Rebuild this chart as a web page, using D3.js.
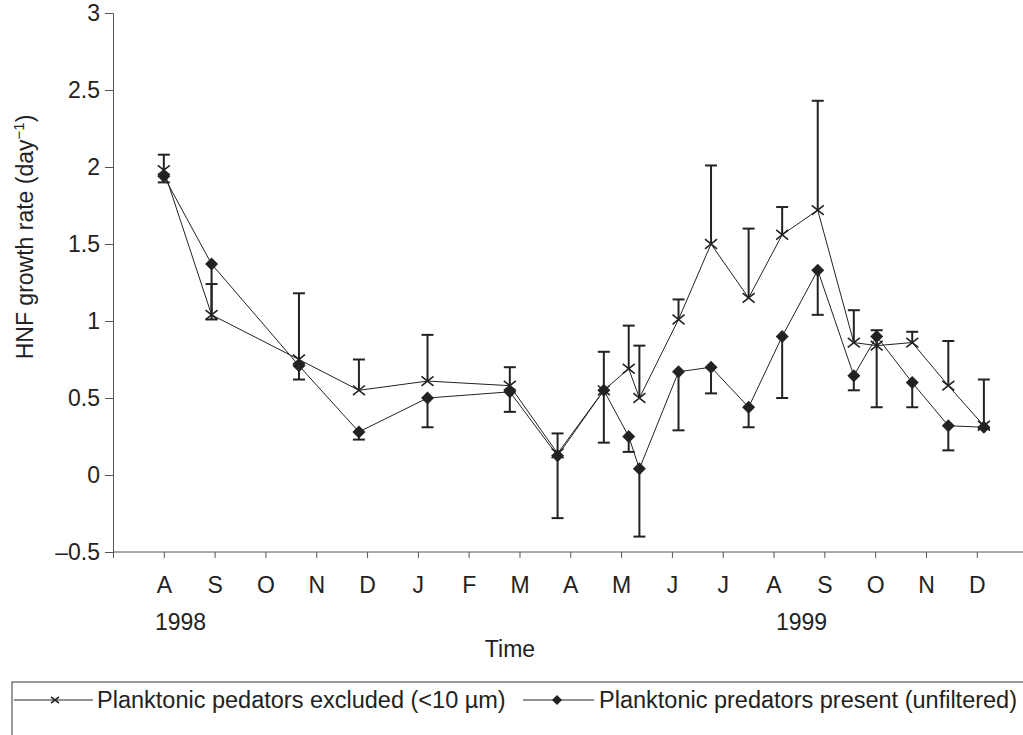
<!DOCTYPE html>
<html>
<head>
<meta charset="utf-8">
<script src="https://cdn.jsdelivr.net/npm/d3@7"></script>
<style>
  body { margin: 0; background: #fff; }
  svg { display: block; font-family: "Liberation Sans", Arial, sans-serif; }
</style>
</head>
<body>
<svg id="chart" width="1023" height="735"></svg>
<script>
// Taux de croissance HNF, deux traitements, août 1998 - décembre 1999

// Étiquettes des mois (axe x) et années
var months = ["A", "S", "O", "N", "D", "J", "F", "M", "A", "M", "J", "J", "A", "S", "O", "N", "D"];
var years = ["1998", "1999"];
var yTicks = [-0.5, 0, 0.5, 1, 1.5, 2, 2.5, 3];

// Date d'échantillonnage, en mois depuis août 1998
var sampleTime = [0, 0.94, 2.66, 3.84, 5.19, 6.81, 7.75, 8.66, 9.15, 9.36,
                  10.13, 10.77, 11.51, 12.17, 12.87, 13.58, 14.03, 14.73, 15.44, 16.14];

// Prédateurs exclus (<10 µm) - erreur vers le haut
var excluded    = [1.98, 1.04, 0.75, 0.55, 0.61, 0.58, 0.14, 0.55, 0.69, 0.50,
                   1.01, 1.50, 1.15, 1.56, 1.72, 0.86, 0.84, 0.86, 0.58, 0.32];
var excludedErr = [0.10, 0.20, 0.43, 0.20, 0.30, 0.12, 0.13, 0.25, 0.28, 0.34,
                   0.13, 0.51, 0.45, 0.18, 0.71, 0.21, 0.10, 0.07, 0.29, 0.30];

// Prédateurs présents (non filtré) - erreur vers le bas
var present    = [1.94, 1.37, 0.71, 0.28, 0.50, 0.54, 0.125, 0.55, 0.25, 0.04,
                  0.67, 0.70, 0.44, 0.90, 1.33, 0.645, 0.90, 0.60, 0.32, 0.31];
var presentErr = [0.04, 0.36, 0.09, 0.05, 0.19, 0.13, 0.405, 0.34, 0.10, 0.44,
                  0.38, 0.17, 0.13, 0.40, 0.29, 0.095, 0.46, 0.16, 0.16, 0.01];

var svg = d3.select("#chart");
var ink = "#222";
var fs = 23;

// Échelles
var x = d3.scaleLinear().domain([-1, 17]).range([113, 113 + 18 * 50.81]);
var y = d3.scaleLinear().domain([-0.5, 3]).range([552, 13]);

// Axe y
var yAxis = svg.append("g")
    .attr("transform", "translate(113,0)")
    .call(d3.axisLeft(y).tickValues(yTicks).tickSize(8).tickPadding(5)
        .tickFormat(d => d < 0 ? "\u2013" + Math.abs(d) : String(d)));
yAxis.select(".domain").attr("stroke", "#555");
yAxis.selectAll(".tick line").attr("stroke", "#555");
yAxis.selectAll("text").attr("font-size", fs).attr("fill", ink).attr("font-family", null);

// Axe x
var xAxis = svg.append("g")
    .attr("transform", "translate(0,552)")
    .call(d3.axisBottom(x).tickValues(d3.range(-1, 18)).tickSize(6).tickPadding(19)
        .tickFormat(d => months[d] || ""));
xAxis.select(".domain").attr("stroke", "#555").attr("d", "M113,0H1023");
xAxis.selectAll(".tick line").attr("stroke", "#555");
xAxis.selectAll("text").attr("font-size", fs).attr("fill", ink).attr("font-family", null);

// Années sous les mois
years.forEach((yr, i) => {
    svg.append("text")
        .attr("x", x(i === 0 ? 0.33 : 12.55))
        .attr("y", 630)
        .attr("text-anchor", "middle")
        .attr("font-size", fs)
        .attr("fill", ink)
        .text(yr);
});

// Titres des axes
svg.append("text")
    .attr("x", 510).attr("y", 657)
    .attr("text-anchor", "middle")
    .attr("font-size", fs).attr("fill", ink)
    .text("Time");

var yTitle = svg.append("text")
    .attr("transform", "translate(33,237) rotate(-90)")
    .attr("text-anchor", "middle")
    .attr("font-size", fs).attr("fill", ink);
yTitle.append("tspan").text("HNF growth rate (day");
yTitle.append("tspan").attr("font-size", 15).attr("dy", -9).text("\u22121");
yTitle.append("tspan").attr("dy", 9).text(")");

var line = d3.line().x(d => x(d.t)).y(d => y(d.v));

var exData = sampleTime.map((t, i) => ({t: t, v: excluded[i], e: excludedErr[i]}));
var prData = sampleTime.map((t, i) => ({t: t, v: present[i], e: presentErr[i]}));

// Barres d'erreur
function errorBars(data, dir) {
    var g = svg.append("g").attr("stroke", ink).attr("stroke-width", 2);
    data.forEach(d => {
        var y0 = y(d.v), y1 = y(d.v + dir * d.e), cx = x(d.t);
        g.append("line").attr("x1", cx).attr("x2", cx).attr("y1", y0).attr("y2", y1);
        g.append("line").attr("x1", cx - 6).attr("x2", cx + 6).attr("y1", y1).attr("y2", y1);
    });
}
errorBars(exData, 1);
errorBars(prData, -1);

// Lignes
svg.append("path").datum(exData).attr("d", line)
    .attr("fill", "none").attr("stroke", ink).attr("stroke-width", 1);
svg.append("path").datum(prData).attr("d", line)
    .attr("fill", "none").attr("stroke", ink).attr("stroke-width", 1);

// Marqueurs
function cross(g, cx, cy, r) {
    g.append("path")
        .attr("d", `M${cx - r},${cy - r * 0.8}L${cx + r},${cy + r * 0.8}M${cx - r},${cy + r * 0.8}L${cx + r},${cy - r * 0.8}`)
        .attr("stroke", ink).attr("stroke-width", 1.6).attr("fill", "none");
}
function diamond(g, cx, cy, r) {
    g.append("path")
        .attr("d", `M${cx},${cy - r}L${cx + r},${cy}L${cx},${cy + r}L${cx - r},${cy}Z`)
        .attr("fill", ink);
}
var marks = svg.append("g");
exData.forEach(d => cross(marks, x(d.t), y(d.v), 6));
prData.forEach(d => diamond(marks, x(d.t), y(d.v), 6.5));

// Légende
svg.append("rect")
    .attr("x", 12).attr("y", 682).attr("width", 1030).attr("height", 80)
    .attr("fill", "none").attr("stroke", "#555").attr("stroke-width", 1.2);

var legend = svg.append("g");
legend.append("line").attr("x1", 14).attr("x2", 93).attr("y1", 700).attr("y2", 700)
    .attr("stroke", ink).attr("stroke-width", 1);
cross(legend, 55, 700, 4);
legend.append("text").attr("x", 97).attr("y", 708).attr("font-size", 23.5).attr("fill", ink)
    .text("Planktonic pedators excluded (<10 \u00b5m)");

legend.append("line").attr("x1", 523).attr("x2", 594).attr("y1", 700).attr("y2", 700)
    .attr("stroke", ink).attr("stroke-width", 1);
diamond(legend, 557, 700, 5);
legend.append("text").attr("x", 599).attr("y", 708).attr("font-size", 23.5).attr("fill", ink)
    .text("Planktonic predators present (unfiltered)");
</script>
</body>
</html>
